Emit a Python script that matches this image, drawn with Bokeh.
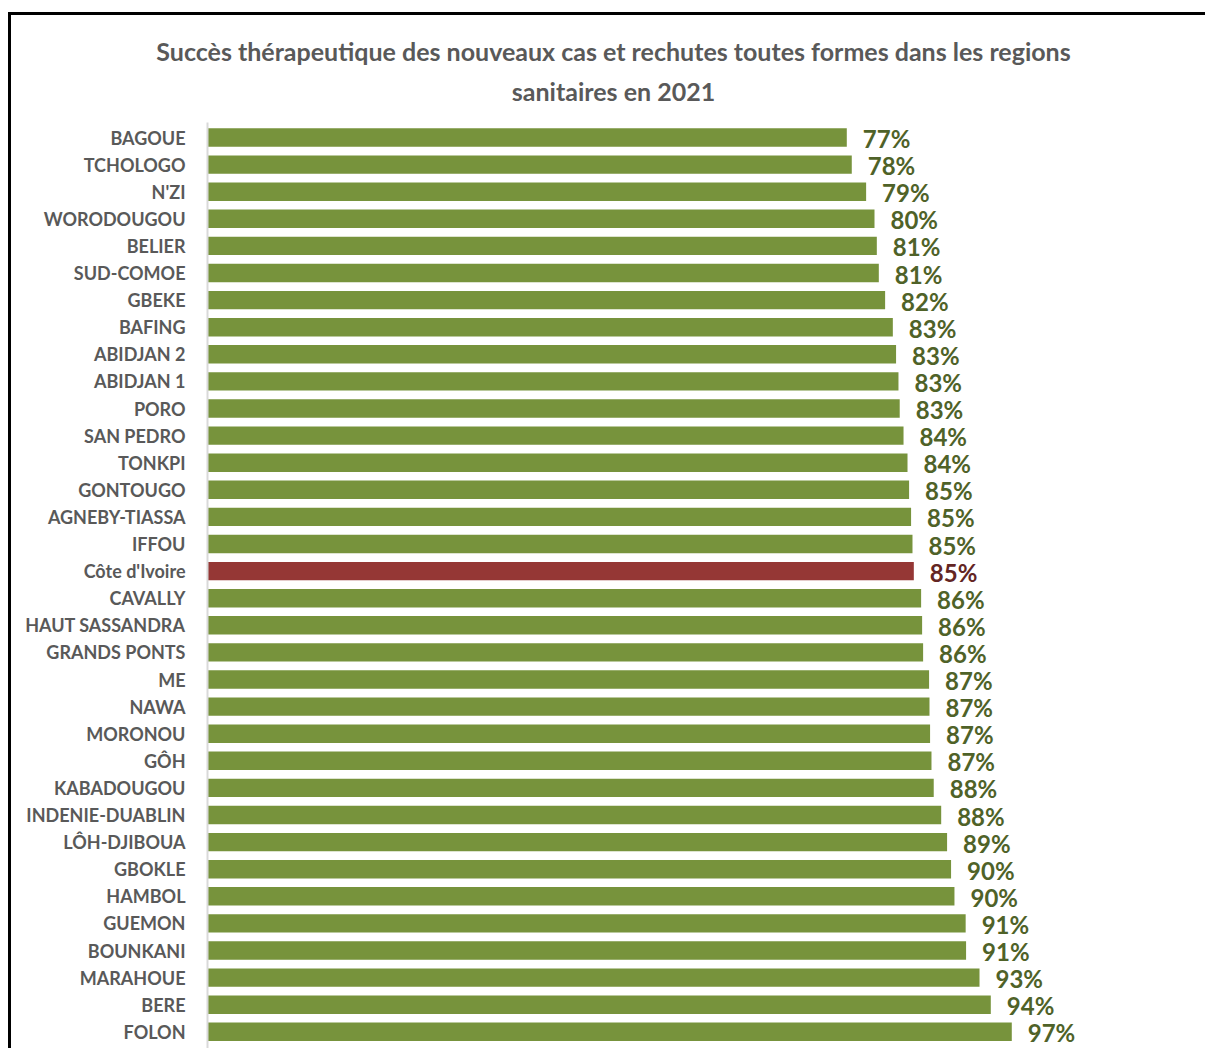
from bokeh.plotting import figure
from bokeh.models import FixedTicker, ColumnDataSource, Range1d
from bokeh.core.properties import value
from bokeh.embed import file_html
from bokeh.resources import INLINE

# ---- data ----
regions = ["BAGOUE", "TCHOLOGO", "N'ZI", "WORODOUGOU", "BELIER", "SUD-COMOE", "GBEKE",
           "BAFING", "ABIDJAN 2", "ABIDJAN 1", "PORO", "SAN PEDRO", "TONKPI", "GONTOUGO",
           "AGNEBY-TIASSA", "IFFOU", "Côte d'Ivoire", "CAVALLY", "HAUT SASSANDRA",
           "GRANDS PONTS", "ME", "NAWA", "MORONOU", "GÔH", "KABADOUGOU", "INDENIE-DUABLIN",
           "LÔH-DJIBOUA", "GBOKLE", "HAMBOL", "GUEMON", "BOUNKANI", "MARAHOUE", "BERE", "FOLON"]
success_pct = [77.07, 77.67, 79.40, 80.41, 80.69, 80.93, 81.69,
               82.62, 83.01, 83.30, 83.45, 83.91, 84.39, 84.58,
               84.82, 84.99, 85.15, 86.03, 86.15,
               86.27, 86.99, 87.04, 87.11, 87.28, 87.55, 88.45,
               89.16, 89.64, 90.05, 91.40, 91.45, 93.07, 94.43, 96.96]
highlight = "Côte d'Ivoire"
title_lines = ["Succès thérapeutique des nouveaux cas et rechutes toutes formes dans les regions",
               "sanitaires en 2021"]

# ---- layout constants (pixels) ----
FONT = "Lato"
W, H = 1197, 1036
CANVAS_X, CANVAS_Y = 11, 15       # page position of the canvas
ZERO_X = 207                      # page x of the value axis origin
FIRST_ROW_Y = 137                 # page y of first bar centre
PX_PER_PCT = 8.295
PITCH = 27.1
x_start = -(ZERO_X - CANVAS_X) / PX_PER_PCT
x_end = (CANVAS_X + W - ZERO_X) / PX_PER_PCT
y_top = -(FIRST_ROW_Y - CANVAS_Y) / PITCH
y_bottom = (CANVAS_Y + H - FIRST_ROW_Y) / PITCH

idx = list(range(len(regions)))
bar_colors = ["#953735" if r == highlight else "#77933C" for r in regions]
lab_colors = ["#632523" if r == highlight else "#4F6228" for r in regions]
labels = [f"{round(v)}%" for v in success_pct]

src = ColumnDataSource(dict(y=idx, v=success_pct, bc=bar_colors, lc=lab_colors, lab=labels))

p = figure(width=W, height=H, output_backend="svg", toolbar_location=None,
           x_range=Range1d(x_start, x_end), y_range=Range1d(y_bottom, y_top),
           min_border_left=0, min_border_top=0, min_border_bottom=0, min_border_right=0)
p.styles = {"border-top": "3px solid black", "border-left": "3px solid black",
            "margin-top": "12px", "margin-left": "8px"}
p.outline_line_color = None
p.xgrid.visible = False
p.ygrid.visible = False
p.xaxis.visible = False

p.hbar(y="y", left=0, right="v", height=0.68, fill_color="bc", line_color=None, source=src)
p.text(x="v", y="y", text="lab", x_offset=16, y_offset=1, text_baseline="middle", text_align="left",
       text_font=value(FONT), text_font_style="bold", text_font_size="24px", text_color="lc", source=src)

ya = p.yaxis[0]
ya.fixed_location = 0
ya.ticker = FixedTicker(ticks=idx)
ya.bounds = (-0.55, y_bottom)
ya.major_label_overrides = {i: r for i, r in enumerate(regions)}
ya.major_tick_line_color = None
ya.minor_tick_line_color = None
ya.major_tick_out = 0
ya.major_tick_in = 0
ya.axis_line_color = "#D9D9D9"
ya.axis_line_width = 2
ya.major_label_standoff = 22
ya.major_label_text_font = FONT
ya.major_label_text_font_style = "bold"
ya.major_label_text_font_size = "18px"
ya.major_label_text_color = "#595959"

# title: two centred lines (page x=613, baselines page y=50 and 90)
title_x = (613 - ZERO_X) / PX_PER_PCT
title_y = [(py - FIRST_ROW_Y) / PITCH for py in (50, 90)]
p.text(x=[title_x, title_x], y=title_y, text=title_lines, text_align="center",
       text_baseline="alphabetic", text_font=value(FONT), text_font_style="bold",
       text_font_size="25px", text_color="#595959")

open("out.html", "w").write(file_html(p, INLINE))
